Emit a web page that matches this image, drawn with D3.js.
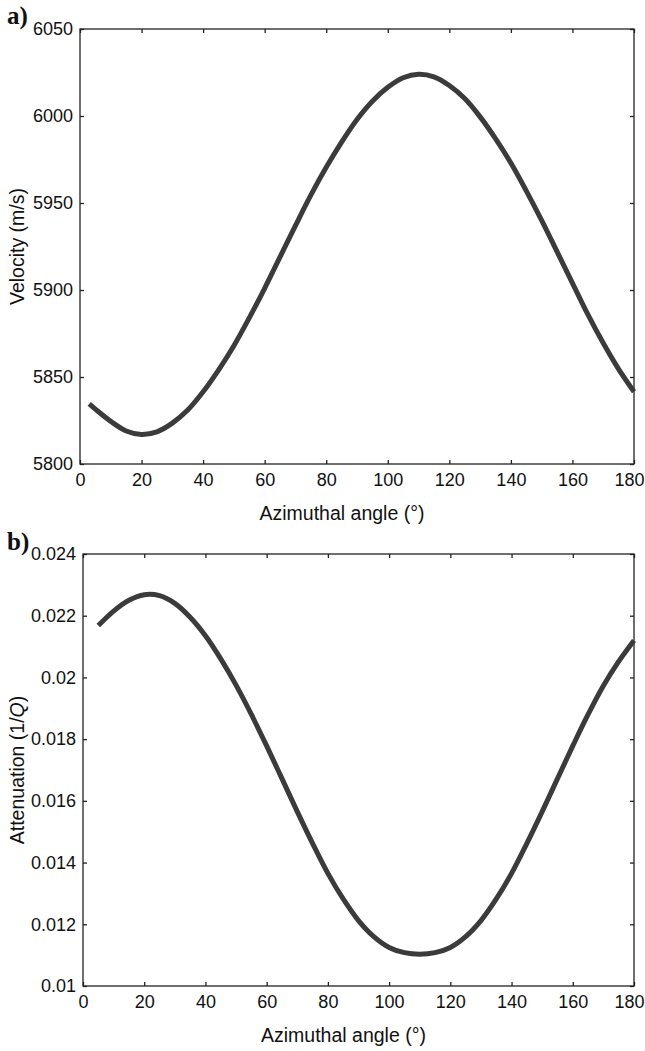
<!DOCTYPE html>
<html>
<head>
<meta charset="utf-8">
<script src="https://cdn.jsdelivr.net/npm/d3@7"></script>
<style>
  body { margin: 0; background: #fff; }
  svg text { font-family: "Liberation Sans", Arial, sans-serif; fill: #111; }
</style>
</head>
<body>
<div id="chart"></div>
<script>
// angles (deg) and values
const anglesA = [3, 5, 10, 15, 20, 25, 30, 35, 40, 45, 50, 55, 60, 65, 70, 75, 80, 85, 90,
                 95, 100, 105, 110, 115, 120, 125, 130, 135, 140, 145, 150, 155, 160, 165, 170, 175, 180];
const velocity = [5834.5, 5831.5, 5824.5, 5819, 5817, 5818.5, 5823.5, 5831, 5841.5, 5854, 5868, 5884, 5901, 5919, 5937, 5954.5, 5970.5, 5985, 5998,
                  6008.5, 6016.5, 6022, 6024, 6022.5, 6017.5, 6010, 5999.5, 5987, 5973, 5957, 5940, 5922, 5904, 5886, 5869.5, 5854.5, 5841.5];

const anglesB = [5, 10, 15, 20, 25, 30, 35, 40, 45, 50, 55, 60, 65, 70, 75, 80, 85, 90,
                 95, 100, 105, 110, 115, 120, 125, 130, 135, 140, 145, 150, 155, 160, 165, 170, 175, 180];
const attenuation = [0.02168, 0.02215, 0.02250, 0.02268, 0.02265, 0.02240, 0.02195, 0.02135, 0.02060, 0.01975, 0.01880, 0.01778,
                     0.01672, 0.01565, 0.01462, 0.01365, 0.01282, 0.01212, 0.01160, 0.01125, 0.01108, 0.01103, 0.01108, 0.01125,
                     0.01160, 0.01212, 0.01282, 0.01365, 0.01462, 0.01565, 0.01672, 0.01778, 0.01880, 0.01973, 0.02052, 0.02120];

const xTicks = [0, 20, 40, 60, 80, 100, 120, 140, 160, 180];
const velTicks = [5800, 5850, 5900, 5950, 6000, 6050];
const attTicks = [0.01, 0.012, 0.014, 0.016, 0.018, 0.02, 0.022, 0.024];

const width = 645, height = 1051;

const svg = d3.select("#chart").append("svg")
    .attr("width", width)
    .attr("height", height);

function panel(opts) {
    const { left, right, top, bottom, angles, values, yDomain, yTicks, yFormat, letter, letterY } = opts;

    const x = d3.scaleLinear().domain([0, 180]).range([left, right]);
    const y = d3.scaleLinear().domain(yDomain).range([bottom, top]);

    const g = svg.append("g");

    // box
    g.append("rect")
        .attr("x", left).attr("y", top)
        .attr("width", right - left).attr("height", bottom - top)
        .attr("fill", "none").attr("stroke", "#222").attr("stroke-width", 1.3);

    // bottom axis with labels, ticks pointing inward
    g.append("g")
        .attr("transform", `translate(0,${bottom})`)
        .call(d3.axisBottom(x).tickValues(xTicks).tickSizeInner(-4).tickSizeOuter(0).tickPadding(9))
        .call(a => a.select(".domain").remove())
        .call(a => a.selectAll("line").attr("stroke", "#222").attr("stroke-width", 1.3))
        .call(a => a.selectAll("text").attr("font-size", 18).attr("font-family", "Liberation Sans, Arial, sans-serif").attr("fill", "#111"))
        .call(a => a.selectAll("text").filter(d => d === 180).attr("dx", -5));

    // top axis, ticks only
    g.append("g")
        .attr("transform", `translate(0,${top})`)
        .call(d3.axisTop(x).tickValues(xTicks).tickSizeInner(-4).tickSizeOuter(0).tickFormat(""))
        .call(a => a.select(".domain").remove())
        .call(a => a.selectAll("line").attr("stroke", "#222").attr("stroke-width", 1.3));

    // left axis
    g.append("g")
        .attr("transform", `translate(${left},0)`)
        .call(d3.axisLeft(y).tickValues(yTicks).tickFormat(yFormat).tickSizeInner(-4).tickSizeOuter(0).tickPadding(7))
        .call(a => a.select(".domain").remove())
        .call(a => a.selectAll("line").attr("stroke", "#222").attr("stroke-width", 1.3))
        .call(a => a.selectAll("text").attr("font-size", 18).attr("font-family", "Liberation Sans, Arial, sans-serif").attr("fill", "#111"));

    // right axis, ticks only
    g.append("g")
        .attr("transform", `translate(${right},0)`)
        .call(d3.axisRight(y).tickValues(yTicks).tickSizeInner(-4).tickSizeOuter(0).tickFormat(""))
        .call(a => a.select(".domain").remove())
        .call(a => a.selectAll("line").attr("stroke", "#222").attr("stroke-width", 1.3));

    // curve
    const pts = angles.map((a, i) => [a, values[i]]);
    const line = d3.line()
        .x(d => x(d[0]))
        .y(d => y(d[1]))
        .curve(d3.curveCatmullRom);

    g.append("path")
        .datum(pts)
        .attr("d", line)
        .attr("fill", "none")
        .attr("stroke", "#3b3b3b")
        .attr("stroke-width", 5);

    // x label
    g.append("text")
        .attr("x", (left + right) / 2 - 15)
        .attr("y", bottom + 56)
        .attr("text-anchor", "middle")
        .attr("font-size", 19.5)
        .text("Azimuthal angle (°)");

    // panel letter
    svg.append("text")
        .attr("x", 7)
        .attr("y", letterY)
        .style("font-family", "Liberation Serif, Times New Roman, serif")
        .style("font-weight", "bold")
        .attr("font-size", 25)
        .text(letter);

    return { g, top, bottom };
}

const pa = panel({
    left: 80, right: 634, top: 29, bottom: 464,
    angles: anglesA, values: velocity,
    yDomain: [5800, 6050], yTicks: velTicks, yFormat: d3.format("d"),
    letter: "a)", letterY: 24
});

pa.g.append("text")
    .attr("transform", `translate(24,${(pa.top + pa.bottom) / 2}) rotate(-90)`)
    .attr("text-anchor", "middle")
    .attr("font-size", 19.5)
    .text("Velocity (m/s)");

const fmtAtt = d => d3.format(".3~f")(d);

const pb = panel({
    left: 83, right: 634, top: 554, bottom: 986,
    angles: anglesB, values: attenuation,
    yDomain: [0.01, 0.024], yTicks: attTicks, yFormat: fmtAtt,
    letter: "b)", letterY: 550
});

const attLabel = pb.g.append("text")
    .attr("transform", `translate(24,${(pb.top + pb.bottom) / 2}) rotate(-90)`)
    .attr("text-anchor", "middle")
    .attr("font-size", 19.5);
attLabel.append("tspan").text("Attenuation (1/");
attLabel.append("tspan").style("font-style", "italic").text("Q");
attLabel.append("tspan").text(")");
</script>
</body>
</html>
